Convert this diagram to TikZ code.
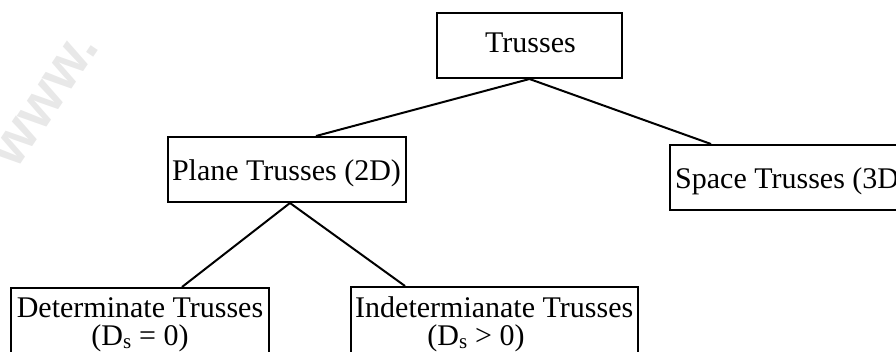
\documentclass[tikz,border=0pt]{standalone}
\usepackage{fontspec}
\setmainfont{Liberation Serif}
\newfontfamily\wmfont{Liberation Sans}
\begin{document}
\begin{tikzpicture}[x=1pt,y=-1pt,
  box/.style={draw=black, line width=2pt, inner sep=0pt, rectangle},
  lbl/.style={inner sep=0pt, font=\fontsize{30}{34}\selectfont, text=black},
  conn/.style={draw=black, line width=2pt},
  wm/.style={inner sep=0pt, font=\wmfont\bfseries\fontsize{58}{62}\selectfont, text=black!9}
]
\useasboundingbox (0,0) rectangle (896,351);
\clip (0,0) rectangle (896,351);
% watermark
\node[wm, rotate=56] (wmark) at (46,100) {www.};
% boxes
\node[box, minimum width=185pt, minimum height=65pt] (trusses) at (529.5,45.5) {};
\node[box, minimum width=238pt, minimum height=65pt] (plane) at (287,169.5) {};
\node[box, minimum width=246pt, minimum height=65pt] (space) at (793,177.5) {};
\node[box, minimum width=258pt, minimum height=90pt] (det) at (140,333) {};
\node[box, minimum width=287pt, minimum height=90pt] (indet) at (494.5,332) {};
% texts
\node[lbl, anchor=base] (t1) at (530.5,52) {Trusses};
\node[lbl, anchor=base] (t2) at (286.5,180) {Plane Trusses (2D)};
\node[lbl, anchor=base west] (t3) at (675,188) {Space Trusses (3D)};
\node[lbl, anchor=base] (t4) at (140,317) {Determinate Trusses};
\node[lbl, anchor=base] (t5) at (140,345) {(D\textsubscript{s}~=~0)};
\node[lbl, anchor=base west] (t6) at (355,317) {Indetermianate Trusses};
\node[lbl, anchor=base] (t7) at (476,345) {(D\textsubscript{s}~>~0)};
% connectors
\draw[conn] (trusses.south) -- ([xshift=149pt]plane.north west);
\draw[conn] (trusses.south) -- ([xshift=42pt]space.north west);
\draw[conn] ([xshift=3pt]plane.south) -- ([xshift=172pt]det.north west);
\draw[conn] ([xshift=3pt]plane.south) -- ([xshift=55pt]indet.north west);
\end{tikzpicture}
\end{document}
